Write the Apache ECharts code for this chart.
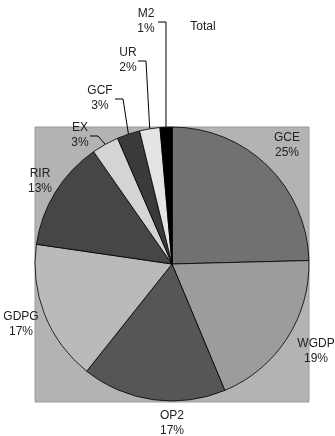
<!DOCTYPE html>
<html>
<head>
<meta charset="utf-8">
<script src="https://cdn.jsdelivr.net/npm/echarts@6/dist/echarts.min.js"></script>
<style>
  html, body { margin: 0; padding: 0; background: #ffffff; }
  #chart { width: 335px; height: 436px; }
</style>
</head>
<body>
<div id="chart"></div>
<script>
// Shares of each component (percent of the whole)
const categories = ['GCE', 'WGDP', 'OP2', 'GDPG', 'RIR', 'EX', 'GCF', 'UR', 'M2', 'Total'];
const shares     = [24.6, 19.1, 17.0, 16.6, 13.0, 3.2, 2.7, 2.4, 1.4, 0];

// Slice fills, grey scale
const sliceColors = ['#717171', '#9c9c9c', '#565656', '#bababa', '#464646',
                     '#d4d4d4', '#3a3a3a', '#e4e4e4', '#000000', '#ffffff'];

// Label anchors (centre of each two-line label) and whether a leader line is drawn
const labelPlacement = {
  GCE:   { x: 287, y: 145, line: false },
  WGDP:  { x: 316, y: 351, line: false },
  OP2:   { x: 172, y: 423, line: false },
  GDPG:  { x: 21,  y: 324, line: false },
  RIR:   { x: 40,  y: 181, line: false },
  EX:    { x: 80,  y: 135, line: true, side: 90 },
  GCF:   { x: 100, y: 98,  line: true, side: 115 },
  UR:    { x: 128, y: 60,  line: true, side: 138 },
  M2:    { x: 146, y: 21,  line: true, side: 158 },
  Total: { x: 203, y: 27,  line: false }
};

const chart = echarts.init(document.getElementById('chart'), null, { renderer: 'canvas' });

chart.setOption({
  animation: false,
  backgroundColor: '#ffffff',
  graphic: [{
    type: 'rect',
    z: -10,
    shape: { x: 35, y: 127, width: 274, height: 275 },
    style: { fill: '#b3b3b3', stroke: '#9a9a9a', lineWidth: 1 }
  }],
  series: [{
    type: 'pie',
    center: [172, 264],
    radius: 137,
    startAngle: 90,
    clockwise: true,
    avoidLabelOverlap: false,
    minShowLabelAngle: 0,
    stillShowZeroSum: true,
    itemStyle: { borderColor: '#000000', borderWidth: 0.8 },
    label: {
      show: true,
      position: 'outside',
      fontFamily: 'Liberation Sans, Arial, sans-serif',
      fontSize: 12,
      lineHeight: 15,
      color: '#222222',
      formatter: function (p) {
        return p.value > 0 ? p.name + '\n' + Math.round(p.percent) + '%' : p.name;
      }
    },
    labelLine: {
      show: true,
      lineStyle: { color: '#000000', width: 1 }
    },
    labelLayout: function (params) {
      const name = categories[params.dataIndex];
      const pl = labelPlacement[name];
      const out = { x: pl.x, y: pl.y, align: 'center', verticalAlign: 'middle' };
      if (pl.line && params.labelLinePoints) {
        const edge = params.labelLinePoints[0];
        const lineY = pl.y + 1;
        out.labelLinePoints = [
          [edge[0], edge[1]],
          [pl.side + 8, lineY],
          [pl.side, lineY]
        ];
      } else {
        // collapse any guide line for labels that sit beside their slice
        out.labelLinePoints = [[pl.x, pl.y], [pl.x, pl.y], [pl.x, pl.y]];
      }
      return out;
    },
    data: categories.map(function (name, i) {
      const pl = labelPlacement[name];
      return {
        name: name,
        value: shares[i],
        itemStyle: { color: sliceColors[i] },
        labelLine: { show: pl.line }
      };
    })
  }]
});
</script>
</body>
</html>
